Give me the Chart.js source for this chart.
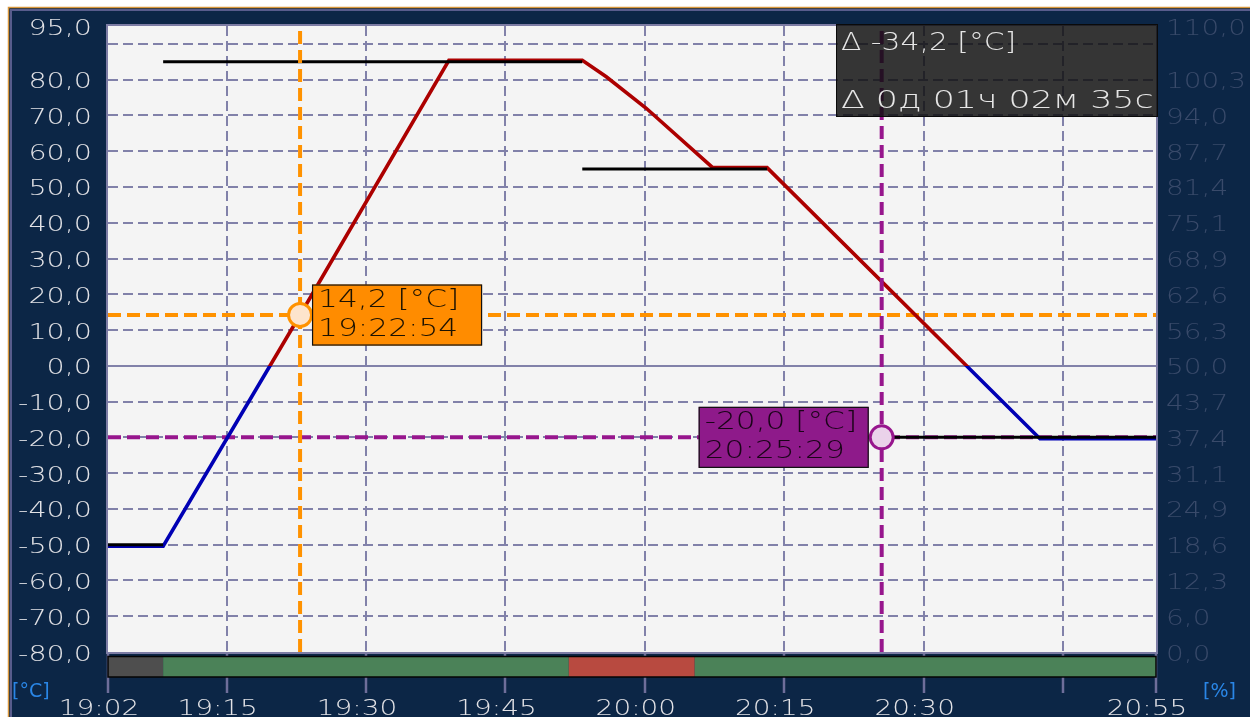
<!DOCTYPE html>
<html>
<head>
<meta charset="utf-8">
<title>Temperature trend</title>
<script src="https://cdn.jsdelivr.net/npm/chart.js@4.4.1/dist/chart.umd.min.js"></script>
<style>
  html, body { margin: 0; padding: 0; background: #ffffff; overflow: hidden; }
  canvas { display: block; }
</style>
</head>
<body>
<canvas id="trend" width="1250" height="717"></canvas>
<script>
// ---- time axis ----
const timeStart = '19:02:14';
const timeEnd = '20:55:00';
const timeTicks = ['19:02:14', '19:15:00', '19:30:00', '19:45:00', '20:00:00', '20:15:00', '20:30:00', '20:45:00', '20:55:00'];
const timeTickLabels = ['19:02', '19:15', '19:30', '19:45', '20:00', '20:15', '20:30', '', '20:55'];

// ---- temperature axis (left) ----
const tempUnit = '°C';
const tempTicks = [95, 90, 80, 70, 60, 50, 40, 30, 20, 10, 0, -10, -20, -30, -40, -50, -60, -70, -80];
const tempTickLabels = ['95,0', '', '80,0', '70,0', '60,0', '50,0', '40,0', '30,0', '20,0', '10,0', '0,0',
  '-10,0', '-20,0', '-30,0', '-40,0', '-50,0', '-60,0', '-70,0', '-80,0'];

// ---- output axis (right) ----
const outUnit = '%';
const outTickLabels = ['110,0', '', '100,3', '94,0', '87,7', '81,4', '75,1', '68,9', '62,6', '56,3', '50,0',
  '43,7', '37,4', '31,1', '24,9', '18,6', '12,3', '6,0', '0,0'];

// ---- measured temperature ----
const measuredTimes = ['19:02:14', '19:08:10', '19:22:54', '19:38:55', '19:53:16', '19:55:51', '20:00:09', '20:07:18', '20:13:09', '20:42:31', '20:55:00'];
const measuredValues = [-50.4, -50.4, 14.2, 85.4, 85.4, 80.8, 72.0, 55.4, 55.4, -20.4, -20.4];

// ---- setpoint program (hold steps) ----
const setpointStart = ['19:02:14', '19:08:10', '19:53:16', '20:13:09'];
const setpointEnd = ['19:08:10', '19:53:16', '20:13:09', '20:55:00'];
const setpointValues = [-50, 85, 55, -20];

// ---- controller state strip ----
const statusStart = ['19:02:14', '19:08:10', '19:51:49', '20:05:22'];
const statusEnd = ['19:08:10', '19:51:49', '20:05:22', '20:55:00'];
const statusState = ['stop', 'run', 'alarm', 'run'];

// ---- cursors ----
const cursorTimes = ['19:22:54', '20:25:29'];
const cursorValues = [14.2, -20.0];

// ---- styling ----
const NAVY = '#0c2646';
const PLOT_BG = '#f4f4f4';
const GRID = '#8181a9';
const FRAME = '#7c7ca4';
const WARM = '#ac0000';
const COLD = '#0000b4';
const CURSOR_LINE = ['#ff9200', '#97168d'];
const CURSOR_FILL = ['#fde4cc', '#ead2ea'];
const BOX_FILL = ['#ff8c00', '#8e1a8a'];
const BOX_TEXT = ['#1c1200', '#1a0418'];
const STATUS_COLORS = { stop: '#4e4e4e', run: '#4b8258', alarm: '#b84a40' };
const FONT = '"DejaVu Sans", Verdana, sans-serif';
const SX = 1.33;

function secOf(t) {
  const p = t.split(':').map(Number);
  return p[0] * 3600 + p[1] * 60 + (p[2] || 0);
}
const fmt = v => v.toFixed(1).replace('.', ',');
const pad2 = n => String(n).padStart(2, '0');

const xMin = secOf(timeStart);
const xMax = secOf(timeEnd);
const tempMin = tempTicks[tempTicks.length - 1];
const tempMax = tempTicks[0];
const outMin = 0, outMax = 110;
// right axis ticks share the left grid rows
const outTickPos = tempTicks.map(t => (t - tempMin) * (outMax - outMin) / (tempMax - tempMin) + outMin);

const measuredData = measuredTimes.map((t, i) => ({ x: secOf(t), y: measuredValues[i] }));
const setpointData = [];
setpointStart.forEach((t, i) => {
  setpointData.push({ x: secOf(t), y: setpointValues[i] }, { x: secOf(setpointEnd[i]), y: setpointValues[i] });
  if (i < setpointStart.length - 1) setpointData.push({ x: secOf(setpointEnd[i]), y: null });
});

// stretched text drawn on the canvas
function drawText(ctx, str, x, y, size, color, align, sx, weight) {
  sx = sx || SX;
  ctx.save();
  ctx.font = (weight || '200') + ' ' + size + 'px ' + FONT;
  ctx.fillStyle = color;
  ctx.textAlign = 'left';
  ctx.textBaseline = 'alphabetic';
  const w = ctx.measureText(str).width * sx;
  const x0 = align === 'right' ? x - w : align === 'center' ? x - w / 2 : x;
  ctx.translate(x0, y);
  ctx.scale(sx, 1);
  ctx.fillText(str, 0, 0);
  ctx.restore();
  return w;
}

const trendDecor = {
  id: 'trendDecor',
  beforeDraw(chart) {
    const { ctx, chartArea: a, width, height } = chart;
    ctx.save();
    ctx.fillStyle = '#ffffff';
    ctx.fillRect(0, 0, width, height);
    ctx.fillStyle = NAVY;
    ctx.fillRect(8, 7, width - 8, height - 7);
    ctx.strokeStyle = '#d8963c';
    ctx.lineWidth = 1.5;
    ctx.beginPath();
    ctx.moveTo(8.5, height); ctx.lineTo(8.5, 7.5); ctx.lineTo(width, 7.5);
    ctx.stroke();
    ctx.strokeStyle = '#585c8c';
    ctx.lineWidth = 2;
    ctx.beginPath();
    ctx.moveTo(11, height); ctx.lineTo(11, 10); ctx.lineTo(width, 10);
    ctx.stroke();
    ctx.fillStyle = PLOT_BG;
    ctx.fillRect(a.left, a.top, a.right - a.left, a.bottom - a.top);
    ctx.restore();
  },
  afterDraw(chart) {
    const { ctx, chartArea: a } = chart;
    const xs = chart.scales.x, yL = chart.scales.y, yR = chart.scales.y2;

    // controller state strip
    const barTop = a.bottom + 4.5, barH = 20.5;
    ctx.save();
    statusStart.forEach((t, i) => {
      const x0 = xs.getPixelForValue(secOf(t));
      const x1 = xs.getPixelForValue(secOf(statusEnd[i]));
      ctx.fillStyle = STATUS_COLORS[statusState[i]];
      ctx.fillRect(x0, barTop, x1 - x0, barH);
    });
    ctx.strokeStyle = '#050505';
    ctx.lineWidth = 1.5;
    ctx.strokeRect(a.left, barTop, a.right - a.left, barH);

    // plot frame
    ctx.strokeStyle = FRAME;
    ctx.lineWidth = 2;
    ctx.strokeRect(a.left - 1, a.top - 1, a.right - a.left + 2, a.bottom - a.top + 2);
    ctx.restore();

    // axis labels
    tempTicks.forEach((v, i) => {
      drawText(ctx, tempTickLabels[i], 92, yL.getPixelForValue(v) + 8.5, 21, '#e2e2e6', 'right', 1.36, '300');
    });
    outTickPos.forEach((v, i) => {
      drawText(ctx, outTickLabels[i], 1166, yR.getPixelForValue(v) + 8.5, 21, '#394a6a', 'left', 1.33, '300');
    });
    timeTicks.forEach((t, i) => {
      drawText(ctx, timeTickLabels[i], xs.getPixelForValue(secOf(t)) - 9, 715, 21, '#e2e2e6', 'center', 1.33, '300');
    });
    drawText(ctx, '[' + tempUnit + ']', 12, 697, 19, '#2a86e6', 'left', 1.0, 'normal');
    drawText(ctx, '[' + outUnit + ']', 1203, 697, 19, '#2a86e6', 'left', 1.0, 'normal');

    // cursor readouts
    const boxW = 170, boxH = 61;
    cursorTimes.forEach((t, i) => {
      const px = xs.getPixelForValue(secOf(t));
      const py = yL.getPixelForValue(cursorValues[i]);
      const bx = i === 0 ? px + 12 : px - 13 - boxW;
      const by = py - boxH / 2;
      ctx.save();
      ctx.fillStyle = BOX_FILL[i];
      ctx.fillRect(bx, by, boxW, boxH);
      ctx.strokeStyle = '#111111';
      ctx.lineWidth = 1.2;
      ctx.strokeRect(bx + 0.5, by + 0.5, boxW - 1, boxH - 1);
      ctx.restore();
      drawText(ctx, fmt(cursorValues[i]) + ' [' + tempUnit + ']', bx + 6, by + 22, 24, BOX_TEXT[i], 'left', 1.3, '300');
      drawText(ctx, t, bx + 6, by + 51, 24, BOX_TEXT[i], 'left', 1.3, '300');
    });

    // difference between cursors
    const dT = cursorValues[1] - cursorValues[0];
    let ds = secOf(cursorTimes[1]) - secOf(cursorTimes[0]);
    const dd = Math.floor(ds / 86400); ds -= dd * 86400;
    const dh = Math.floor(ds / 3600); ds -= dh * 3600;
    const dm = Math.floor(ds / 60); ds -= dm * 60;
    const dx = a.right + 2 - 322, dy = a.top - 2;
    ctx.save();
    ctx.fillStyle = 'rgba(16,16,16,0.84)';
    ctx.fillRect(dx, dy, 322, 93);
    ctx.strokeStyle = '#0a0a0a';
    ctx.lineWidth = 1;
    ctx.strokeRect(dx + 0.5, dy + 0.5, 321, 92);
    ctx.restore();
    drawText(ctx, 'Δ ' + fmt(dT) + ' [' + tempUnit + ']', dx + 5, dy + 26, 24, '#e6e6e6', 'left', 1.24, '300');
    drawText(ctx, 'Δ ' + dd + 'д ' + pad2(dh) + 'ч ' + pad2(dm) + 'м ' + pad2(ds) + 'с', dx + 5, dy + 84, 24, '#e6e6e6', 'left', 1.45, '300');
  }
};

function measuredColor(c) {
  const chart = c.chart;
  const a = chart.chartArea;
  if (!a) return WARM;
  const y0 = chart.scales.y.getPixelForValue(0);
  const f = Math.min(1, Math.max(0, (y0 - a.top) / (a.bottom - a.top)));
  const g = chart.ctx.createLinearGradient(0, a.top, 0, a.bottom);
  g.addColorStop(0, WARM);
  g.addColorStop(f, WARM);
  g.addColorStop(f, COLD);
  g.addColorStop(1, COLD);
  return g;
}

const datasets = [];
cursorTimes.forEach((t, i) => {
  // horizontal cursor line
  datasets.push({
    data: [{ x: xMin, y: cursorValues[i] }, { x: xMax, y: cursorValues[i] }],
    borderColor: CURSOR_LINE[i], borderWidth: 4, borderDash: [13, 6],
    pointRadius: 0, order: 10
  });
  // vertical cursor line
  datasets.push({
    data: [{ x: secOf(t), y: tempMin }, { x: secOf(t), y: tempMax }],
    borderColor: CURSOR_LINE[i], borderWidth: 4, borderDash: [13, 6],
    pointRadius: 0, order: 6
  });
});
datasets.push({
  label: 'Temperatura',
  data: measuredData,
  borderColor: measuredColor, borderWidth: 3.6, pointRadius: 0, tension: 0, order: 8
});
datasets.push({
  label: 'Zadana',
  data: setpointData,
  borderColor: '#000000', borderWidth: 3, pointRadius: 0, spanGaps: false, order: 7
});
datasets.push({
  label: 'Kursor',
  data: cursorTimes.map((t, i) => ({ x: secOf(t), y: cursorValues[i] })),
  showLine: false, pointRadius: 11.5, pointBorderWidth: 3,
  pointBackgroundColor: CURSOR_FILL, pointBorderColor: CURSOR_LINE, order: 1
});

const clear = 'rgba(0,0,0,0)';
new Chart(document.getElementById('trend').getContext('2d'), {
  type: 'line',
  data: { datasets },
  options: {
    responsive: false,
    animation: false,
    devicePixelRatio: 1,
    events: [],
    layout: { padding: { top: 26, left: 0, right: 0, bottom: 0 } },
    plugins: { legend: { display: false }, tooltip: { enabled: false } },
    scales: {
      x: {
        type: 'linear', min: xMin, max: xMax,
        afterBuildTicks: s => { s.ticks = timeTicks.map(t => ({ value: secOf(t) })); },
        afterFit: s => { s.height = 65; },
        ticks: { display: false },
        border: { display: false, dash: [10, 5] },
        grid: {
          color: c => (c.index === 0 || c.index === timeTicks.length - 1) ? clear : GRID,
          lineWidth: 2, drawTicks: true, tickLength: 41, tickWidth: 2.5, tickColor: '#6e6e9a', tickBorderDash: []
        }
      },
      y: {
        position: 'left', min: tempMin, max: tempMax,
        afterBuildTicks: s => { s.ticks = tempTicks.map(v => ({ value: v })); },
        afterFit: s => { s.width = 108; },
        ticks: { display: false },
        border: { display: false, dash: c => (c.tick && c.tick.value === 0) ? [] : [10, 5] },
        grid: {
          color: c => (c.index === 0 || c.index === tempTicks.length - 1) ? clear : GRID,
          lineWidth: 2, drawTicks: false
        }
      },
      y2: {
        position: 'right', min: outMin, max: outMax,
        afterBuildTicks: s => { s.ticks = outTickPos.map(v => ({ value: v })); },
        afterFit: s => { s.width = 94; },
        ticks: { display: false },
        border: { display: false },
        grid: { display: false }
      }
    }
  },
  plugins: [trendDecor]
});
</script>
</body>
</html>
